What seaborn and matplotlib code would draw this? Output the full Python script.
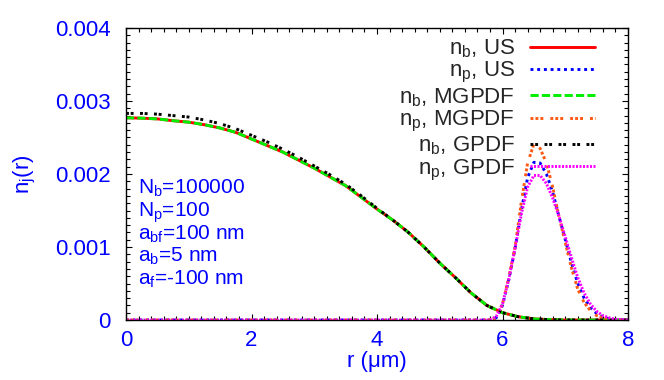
import numpy as np
import pandas as pd
import matplotlib
matplotlib.use("Agg")
import matplotlib.pyplot as plt
import seaborn as sns
from matplotlib.ticker import MultipleLocator, FuncFormatter

# --- data (densities, in units of 1e-3) ---
r_bulk = [0.0, 0.25, 0.5, 0.75, 1.0, 1.25, 1.5, 1.75, 2.0, 2.25, 2.5, 2.75,
          3.0, 3.25, 3.5, 3.75, 4.0, 4.25, 4.5, 4.75, 5.0, 5.25, 5.5, 5.75,
          6.0, 6.25, 6.5, 6.75, 7.0, 8.0]
nb_us = [2.77, 2.765, 2.755, 2.73, 2.71, 2.675, 2.63, 2.57, 2.48, 2.39, 2.30, 2.19,
         2.08, 1.96, 1.84, 1.68, 1.52, 1.37, 1.20, 1.00, 0.78, 0.58, 0.37, 0.20,
         0.10, 0.045, 0.015, 0.005, 0.0, 0.0]
nb_mgpdf = [2.77, 2.765, 2.755, 2.73, 2.71, 2.675, 2.63, 2.57, 2.48, 2.39, 2.30, 2.19,
            2.08, 1.96, 1.84, 1.68, 1.52, 1.37, 1.20, 1.00, 0.78, 0.58, 0.37, 0.20,
            0.10, 0.045, 0.015, 0.005, 0.0, 0.0]
nb_gpdf = [2.83, 2.83, 2.82, 2.80, 2.78, 2.74, 2.69, 2.62, 2.53, 2.44, 2.34, 2.23,
           2.11, 1.99, 1.86, 1.70, 1.53, 1.37, 1.20, 1.00, 0.78, 0.58, 0.37, 0.20,
           0.10, 0.045, 0.015, 0.005, 0.0, 0.0]

r_pol = [0.0, 5.8, 5.9, 6.0, 6.1, 6.2, 6.3, 6.4, 6.5, 6.6, 6.7, 6.8, 6.9,
         7.0, 7.1, 7.2, 7.3, 7.4, 7.5, 7.6, 7.7, 7.8, 8.0]
np_us = [0.0, 0.0, 0.03, 0.20, 0.55, 0.98, 1.50, 1.95, 2.16, 2.15, 2.00, 1.75, 1.42,
         1.10, 0.78, 0.50, 0.30, 0.17, 0.09, 0.04, 0.015, 0.005, 0.0]
np_mgpdf = [0.0, 0.0, 0.03, 0.22, 0.58, 1.00, 1.62, 2.15, 2.41, 2.35, 2.15, 1.82, 1.42,
            1.06, 0.71, 0.42, 0.24, 0.13, 0.06, 0.03, 0.01, 0.0, 0.0]
np_gpdf = [0.0, 0.0, 0.05, 0.22, 0.56, 0.98, 1.45, 1.82, 1.98, 1.98, 1.87, 1.67, 1.42,
           1.14, 0.85, 0.58, 0.37, 0.22, 0.12, 0.06, 0.03, 0.01, 0.0]

labels = [r"n$_\mathregular{b}$, US", r"n$_\mathregular{p}$, US",
          r"n$_\mathregular{b}$, MGPDF", r"n$_\mathregular{p}$, MGPDF",
          r"n$_\mathregular{b}$, GPDF", r"n$_\mathregular{p}$, GPDF"]
params = [r"N$_\mathregular{b}$=100000", r"N$_\mathregular{p}$=100",
          r"a$_\mathregular{bf}$=100 nm", r"a$_\mathregular{b}$=5 nm",
          r"a$_\mathregular{f}$=-100 nm"]

scale = 1e-3
series = [
    (r_bulk, nb_us, "#ff0000", "-"),
    (r_pol, np_us, "#0000ff", (0, (1, 1.3))),
    (r_bulk, nb_mgpdf, "#00ee00", (0, (2.8, 1.1))),
    (r_pol, np_mgpdf, "#ff5a14", (0, (1, 0.7, 1, 0.7, 1, 2.4))),
    (r_bulk, nb_gpdf, "#000000", (0, (1, 0.6, 1, 2.2))),
    (r_pol, np_gpdf, "#ff00ff", (0, (0.7, 0.5))),
]

sns.set_theme(style="ticks")
plt.rcParams.update({
    "font.family": ["Liberation Sans", "DejaVu Sans"],
    "mathtext.fontset": "custom",
    "mathtext.rm": "Liberation Sans",
    "mathtext.it": "Liberation Sans:italic",
    "font.size": 16,
    "axes.linewidth": 1.0,
    "axes.edgecolor": "black",
})

fig = plt.figure(figsize=(6.64, 3.80), dpi=100)
ax = fig.add_axes([126 / 664, 1 - 320 / 380, 502 / 664, 292 / 380])

for (r, vals, color, ls), lab in zip(series, labels):
    df = pd.DataFrame({"r": r, "n": np.array(vals) * scale})
    sns.lineplot(data=df, x="r", y="n", ax=ax, color=color, linestyle=ls,
                 linewidth=2.1, label=lab, sort=True)

ax.set_xlim(0, 8)
ax.set_ylim(0, 0.004)
ax.xaxis.set_major_locator(MultipleLocator(2))
ax.xaxis.set_minor_locator(MultipleLocator(0.2))
ax.yaxis.set_major_locator(MultipleLocator(0.001))
ax.yaxis.set_minor_locator(MultipleLocator(0.0001))
ax.yaxis.set_major_formatter(FuncFormatter(lambda v, p: "0" if abs(v) < 1e-12 else f"{v:.3f}"))
ax.tick_params(which="both", direction="in", top=True, right=True, colors="black",
               labelcolor="#0000ff", labelsize=16, width=0.8)
ax.tick_params(which="major", length=4.5)
ax.tick_params(which="minor", length=3)
ax.tick_params(axis="y", pad=11)
ax.tick_params(axis="x", pad=7)

ax.set_xlabel("r (\u03bcm)", color="#0000ff", fontsize=16, labelpad=0)
ax.set_ylabel(r"n$_\mathregular{j}$(r)", color="#0000ff", fontsize=16, labelpad=12)

for i, t in enumerate(params):
    ax.text(0.024, 0.432 - i * 0.078, t, transform=ax.transAxes, color="#0000ff",
            fontsize=15, va="baseline", ha="left")

leg = ax.legend(loc="upper right", bbox_to_anchor=(0.934, 0.968), frameon=False,
                markerfirst=False, fontsize=16, handlelength=2.9, handletextpad=0.7,
                labelspacing=0.02, borderpad=0, borderaxespad=0)

fig.savefig("out.png", dpi=100)
